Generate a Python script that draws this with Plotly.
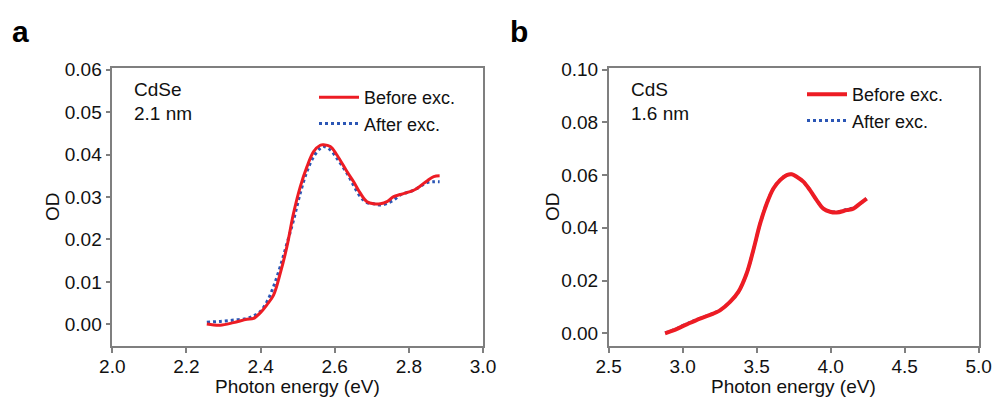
import plotly.graph_objects as go

# ---- Panel a: CdSe 2.1 nm ----
a_before_x = [2.255, 2.291, 2.327, 2.363, 2.381, 2.399, 2.417, 2.435, 2.453, 2.471, 2.489, 2.507,
              2.525, 2.543, 2.561, 2.570, 2.588, 2.606, 2.633, 2.651, 2.669, 2.687, 2.705, 2.723,
              2.741, 2.759, 2.777, 2.813, 2.831, 2.849, 2.867, 2.883]
a_before_y = [0.0001, -0.0002, 0.0004, 0.0012, 0.0014, 0.0027, 0.0046, 0.0069, 0.0120, 0.0183, 0.0262, 0.0324,
              0.0371, 0.0407, 0.0422, 0.0423, 0.0419, 0.0399, 0.0360, 0.0336, 0.0309, 0.0289, 0.0284, 0.0284,
              0.0289, 0.0301, 0.0306, 0.0316, 0.0326, 0.0338, 0.0348, 0.0350]
a_after_x = [2.255, 2.291, 2.327, 2.363, 2.381, 2.399, 2.417, 2.435, 2.453, 2.471, 2.489, 2.507,
             2.525, 2.543, 2.561, 2.570, 2.588, 2.606, 2.633, 2.669, 2.687, 2.705, 2.723, 2.741,
             2.759, 2.777, 2.813, 2.849, 2.867, 2.883]
a_after_y = [0.0005, 0.0007, 0.0010, 0.0014, 0.0020, 0.0030, 0.0053, 0.0089, 0.0136, 0.0190, 0.0246, 0.0309,
             0.0360, 0.0395, 0.0415, 0.0419, 0.0411, 0.0391, 0.0356, 0.0301, 0.0287, 0.0284, 0.0281, 0.0285,
             0.0293, 0.0305, 0.0316, 0.0334, 0.0336, 0.0336]

# ---- Panel b: CdS 1.6 nm ----
b_before_x = [2.881, 2.937, 3.027, 3.117, 3.207, 3.252, 3.320, 3.376, 3.432, 3.477, 3.523, 3.568,
              3.613, 3.658, 3.703, 3.737, 3.770, 3.815, 3.860, 3.905, 3.950, 3.995, 4.040, 4.108,
              4.153, 4.198, 4.243]
b_before_y = [0.0000, 0.0011, 0.0034, 0.0056, 0.0075, 0.0087, 0.0119, 0.0157, 0.0227, 0.0315, 0.0416, 0.0492,
              0.0549, 0.0581, 0.0600, 0.0603, 0.0594, 0.0575, 0.0543, 0.0505, 0.0473, 0.0461, 0.0458, 0.0467,
              0.0473, 0.0492, 0.0511]
b_after_x = [2.881, 2.937, 3.027, 3.117, 3.207, 3.252, 3.320, 3.376, 3.432, 3.477, 3.523, 3.568,
             3.613, 3.658, 3.703, 3.737, 3.770, 3.815, 3.860, 3.905, 3.950, 3.995, 4.040, 4.108,
             4.153, 4.198, 4.243]
b_after_y = [0.0002, 0.0013, 0.0036, 0.0057, 0.0076, 0.0088, 0.0120, 0.0157, 0.0227, 0.0315, 0.0416, 0.0492,
             0.0549, 0.0581, 0.0600, 0.0603, 0.0594, 0.0575, 0.0543, 0.0505, 0.0473, 0.0462, 0.0460, 0.0470,
             0.0476, 0.0492, 0.0510]

a_xticks = [2.0, 2.2, 2.4, 2.6, 2.8, 3.0]
a_yticks = [0.00, 0.01, 0.02, 0.03, 0.04, 0.05, 0.06]
b_xticks = [2.5, 3.0, 3.5, 4.0, 4.5, 5.0]
b_yticks = [0.00, 0.02, 0.04, 0.06, 0.08, 0.10]

RED = "#ed1c24"
BLUE = "#2b56b5"
GRAY = "#7f7f7f"
TXT = "#111111"
FONT = "Liberation Sans, Arial, sans-serif"
FS = 19

fig = go.Figure()

fig.add_trace(go.Scatter(x=a_after_x, y=a_after_y, mode="lines", name="After exc.",
                         line=dict(color=BLUE, width=3, dash="dot", shape="spline"),
                         xaxis="x", yaxis="y", legend="legend", legendrank=2))
fig.add_trace(go.Scatter(x=a_before_x, y=a_before_y, mode="lines", name="Before exc.",
                         line=dict(color=RED, width=3, shape="spline"),
                         xaxis="x", yaxis="y", legend="legend", legendrank=1))
fig.add_trace(go.Scatter(x=b_after_x, y=b_after_y, mode="lines", name="After exc.",
                         line=dict(color=BLUE, width=3, dash="dot", shape="spline"),
                         xaxis="x2", yaxis="y2", legend="legend2", legendrank=2))
fig.add_trace(go.Scatter(x=b_before_x, y=b_before_y, mode="lines", name="Before exc.",
                         line=dict(color=RED, width=4, shape="spline"),
                         xaxis="x2", yaxis="y2", legend="legend2", legendrank=1))

W, H = 994, 397
def px(v): return v / W
def py(v): return 1 - v / H

axis_common = dict(showline=True, linecolor=GRAY, linewidth=1.5, mirror=True,
                   ticks="outside", ticklen=5, tickcolor=GRAY, tickwidth=1.5,
                   showgrid=False, zeroline=False, automargin=False,
                   tickfont=dict(family=FONT, size=FS, color=TXT))

def ann(text, x, y, size=FS, anchor="left", angle=0, color=TXT):
    return dict(text=text, x=px(x), y=py(y), xref="paper", yref="paper", xanchor=anchor,
                yanchor="middle", showarrow=False, textangle=angle,
                font=dict(family=FONT, size=size, color=color))

fig.update_layout(
    width=W, height=H,
    margin=dict(l=0, r=0, t=0, b=0, autoexpand=False),
    paper_bgcolor="white", plot_bgcolor="white",
    showlegend=True,
    xaxis=dict(domain=[px(112.3), px(483)], range=[2.0, 3.0], tickvals=a_xticks,
               ticktext=[f"{v:.1f}" for v in a_xticks], anchor="y", ticklabelstandoff=-3,
               **axis_common),
    yaxis=dict(domain=[py(346), py(68)], range=[-0.0051, 0.0604], tickvals=a_yticks,
               ticktext=[f"{v:.2f}" for v in a_yticks], anchor="x", **axis_common),
    xaxis2=dict(domain=[px(608.7), px(978.7)], range=[2.5, 5.0], tickvals=b_xticks,
                ticktext=[f"{v:.1f}" for v in b_xticks], anchor="y2", ticklabelstandoff=-3,
                **axis_common),
    yaxis2=dict(domain=[py(346), py(68)], range=[-0.0048, 0.1006], tickvals=b_yticks,
                ticktext=[f"{v:.2f}" for v in b_yticks], anchor="x2", **axis_common),
    legend=dict(x=px(314), y=py(79), xanchor="left", yanchor="top", bgcolor="rgba(0,0,0,0)",
                font=dict(family=FONT, size=18, color=TXT), itemwidth=40,
                tracegroupgap=0),
    legend2=dict(x=px(802), y=py(76), xanchor="left", yanchor="top", bgcolor="rgba(0,0,0,0)",
                 font=dict(family=FONT, size=18, color=TXT), itemwidth=40,
                 tracegroupgap=0),
    annotations=[
        ann("CdSe", 132, 89), ann("2.1 nm", 132, 113),
        ann("CdS", 629, 89), ann("1.6 nm", 629, 113),
        ann("<b>a</b>", 10, 31, size=30, color="#000000"),
        ann("<b>b</b>", 508, 31, size=30, color="#000000"),
        ann("Photon energy (eV)", 297.5, 386, anchor="center"),
        ann("Photon energy (eV)", 793.5, 386, anchor="center"),
        ann("OD", 52, 207, anchor="center", angle=-90),
        ann("OD", 552, 207, anchor="center", angle=-90),
    ],
)

fig.write_html("out.html")
